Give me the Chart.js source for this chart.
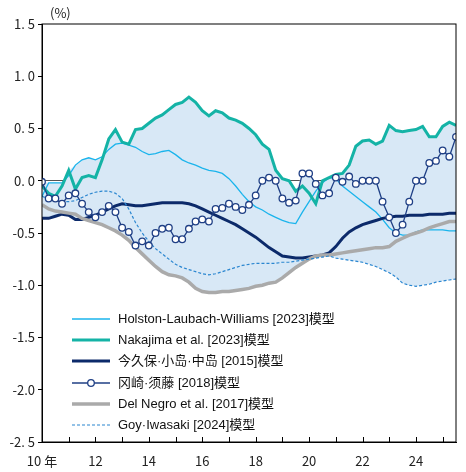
<!DOCTYPE html>
<html><head><meta charset="utf-8">
<script src="https://cdn.jsdelivr.net/npm/chart.js@4"></script>
<style>html,body{margin:0;padding:0;background:#fff}#w{width:466px;height:472px}</style>
</head><body><div id="w"><canvas id="c"></canvas></div>
<script>
const startYear = 10, step = 0.25;
const hlw = [-0.15,-0.02,-0.02,-0.02,0.05,0.15,0.2,0.22,0.2,0.23,0.3,0.35,0.36,0.34,0.32,0.28,0.25,0.26,0.28,0.29,0.25,0.2,0.17,0.15,0.12,0.1,0.09,0.07,0.02,-0.05,-0.13,-0.2,-0.25,-0.28,-0.32,-0.35,-0.38,-0.4,-0.41,-0.3,-0.2,-0.1,-0.02,0.03,0.02,-0.05,-0.1,-0.15,-0.2,-0.25,-0.3,-0.37,-0.45,-0.5,-0.52,-0.52,-0.49,-0.47,-0.47,-0.47,-0.47,-0.48,-0.48];
const nakajima = [-0.05,-0.12,-0.15,-0.05,0.1,-0.08,0.03,0.05,0.03,0.2,0.4,0.49,0.37,0.35,0.49,0.5,0.55,0.6,0.63,0.68,0.73,0.75,0.8,0.75,0.67,0.62,0.67,0.65,0.6,0.58,0.55,0.5,0.44,0.35,0.3,0.1,0.02,0.0,-0.1,-0.05,-0.12,-0.22,0.0,0.03,0.06,0.07,0.15,0.33,0.38,0.39,0.35,0.38,0.53,0.48,0.47,0.48,0.49,0.52,0.42,0.42,0.52,0.56,0.53];
const imakubo = [-0.36,-0.36,-0.34,-0.32,-0.33,-0.37,-0.37,-0.35,-0.33,-0.3,-0.27,-0.24,-0.22,-0.23,-0.24,-0.24,-0.23,-0.22,-0.21,-0.21,-0.21,-0.21,-0.22,-0.24,-0.27,-0.3,-0.33,-0.36,-0.39,-0.42,-0.46,-0.5,-0.54,-0.59,-0.64,-0.68,-0.72,-0.73,-0.74,-0.74,-0.73,-0.72,-0.71,-0.69,-0.63,-0.55,-0.49,-0.45,-0.42,-0.4,-0.38,-0.36,-0.35,-0.34,-0.34,-0.33,-0.33,-0.33,-0.32,-0.32,-0.32,-0.31,-0.31];
const okazaki = [-0.01,-0.17,-0.17,-0.22,-0.14,-0.12,-0.22,-0.3,-0.35,-0.3,-0.24,-0.3,-0.45,-0.49,-0.62,-0.58,-0.62,-0.5,-0.46,-0.45,-0.56,-0.56,-0.46,-0.39,-0.37,-0.39,-0.27,-0.26,-0.22,-0.25,-0.28,-0.23,-0.14,0.0,0.03,0.0,-0.17,-0.21,-0.19,0.07,0.07,-0.03,-0.14,-0.12,0.03,-0.01,0.04,-0.03,0.0,0.0,0.0,-0.2,-0.35,-0.5,-0.42,-0.2,0.0,0.0,0.17,0.19,0.29,0.23,0.42];
const delNegro = [-0.23,-0.27,-0.29,-0.3,-0.31,-0.32,-0.36,-0.38,-0.4,-0.42,-0.45,-0.48,-0.52,-0.57,-0.64,-0.7,-0.76,-0.82,-0.87,-0.9,-0.91,-0.93,-0.97,-1.03,-1.06,-1.07,-1.07,-1.06,-1.06,-1.05,-1.04,-1.03,-1.01,-1.0,-0.98,-0.97,-0.93,-0.88,-0.83,-0.79,-0.75,-0.72,-0.71,-0.71,-0.7,-0.69,-0.68,-0.67,-0.66,-0.65,-0.64,-0.64,-0.63,-0.58,-0.55,-0.52,-0.5,-0.48,-0.45,-0.43,-0.41,-0.39,-0.39];
const goy = [-0.15,-0.17,-0.19,-0.2,-0.2,-0.19,-0.16,-0.13,-0.11,-0.1,-0.1,-0.12,-0.17,-0.27,-0.4,-0.5,-0.58,-0.65,-0.7,-0.75,-0.8,-0.83,-0.85,-0.87,-0.89,-0.9,-0.89,-0.87,-0.85,-0.83,-0.81,-0.8,-0.79,-0.79,-0.79,-0.79,-0.78,-0.78,-0.77,-0.76,-0.75,-0.74,-0.73,-0.72,-0.74,-0.75,-0.76,-0.77,-0.78,-0.8,-0.82,-0.85,-0.88,-0.92,-0.98,-1.0,-1.01,-1.0,-0.99,-0.97,-0.96,-0.95,-0.94];
const yTickLabels = {"1.5":"1. 5","1":"1. 0","0.5":"0. 5","0":"0. 0","-0.5":"-0.5","-1":"-1.0","-1.5":"-1.5","-2":"-2.0","-2.5":"-2. 5"};
const names = ["Holston-Laubach-Williams [2023]模型","Nakajima et al. [2023]模型","今久保·小岛·中岛 [2015]模型","冈崎·须藤 [2018]模型","Del Negro et al. [2017]模型","Goy·Iwasaki [2024]模型"];

const all = [hlw,nakajima,imakubo,okazaki,delNegro,goy];
const xs = hlw.map((_,i)=>startYear+i*step);
const pts = a => a.map((v,i)=>({x:xs[i],y:v}));
const upper = xs.map((_,i)=>Math.max(...all.map(a=>a[i])));
const lower = xs.map((_,i)=>Math.min(...all.map(a=>a[i])));

const series = [
 {label:names[0],data:pts(hlw),borderColor:'#1ab4ec',borderWidth:1.3,order:6},
 {label:names[1],data:pts(nakajima),borderColor:'#14b3a6',borderWidth:3,order:5},
 {label:names[2],data:pts(imakubo),borderColor:'#0c2a6a',borderWidth:3,order:4},
 {label:names[3],data:pts(okazaki),borderColor:'#1f3f85',borderWidth:1.3,pointRadius:3.3,pointBackgroundColor:'#fff',pointBorderColor:'#1f3f85',pointBorderWidth:1.3,order:1},
 {label:names[4],data:pts(delNegro),borderColor:'#aaaaaa',borderWidth:3.5,order:3},
 {label:names[5],data:pts(goy),borderColor:'#2a86d0',borderWidth:1.2,borderDash:[3,2],order:2}
].map(d=>Object.assign({pointRadius:0,fill:false,tension:0},d));

const datasets = [
 {label:'upper',data:pts(upper),borderWidth:0,pointRadius:0,fill:false,borderColor:'transparent',order:20},
 {label:'lower',data:pts(lower),borderWidth:0,pointRadius:0,fill:'-1',borderColor:'transparent',backgroundColor:'#d8e8f6',order:19},
 ...series
];

const deco = {
 id:'deco',
 afterDraw(chart){
  const {ctx,chartArea:a,scales:{x,y}} = chart;
  ctx.save();
  ctx.strokeStyle='#000';ctx.lineWidth=1;
  ctx.strokeRect(a.left,a.top,a.right-a.left,a.bottom-a.top);
  for(let v=11;v<=25;v++){const px=Math.round(x.getPixelForValue(v))+0.5;ctx.beginPath();ctx.moveTo(px,a.bottom);ctx.lineTo(px,a.bottom-5);ctx.stroke();}
  ctx.fillStyle='#222';ctx.font='13px "Noto Sans CJK SC"';ctx.textBaseline='middle';
  ctx.fillText('(%)',50,13);
  const rows=[319,340,361,383,404,425];
  series.forEach((d,i)=>{
    const yy=rows[i];
    ctx.beginPath();ctx.strokeStyle=d.borderColor;ctx.lineWidth=d.borderWidth;ctx.setLineDash(d.borderDash||[]);
    ctx.moveTo(72,yy);ctx.lineTo(110,yy);ctx.stroke();ctx.setLineDash([]);
    if(d.pointRadius){ctx.beginPath();ctx.fillStyle='#fff';ctx.lineWidth=1.3;ctx.arc(91,yy,3.3,0,Math.PI*2);ctx.fill();ctx.stroke();}
    ctx.fillStyle='#111';ctx.font='13px "Liberation Sans","Noto Sans CJK SC"';
    ctx.fillText(d.label,118,yy);
  });
  ctx.restore();
 }
};

new Chart(document.getElementById('c'),{
 type:'line',
 data:{datasets},
 options:{
  responsive:true,maintainAspectRatio:false,animation:false,
  layout:{padding:{top:24,right:10,left:0,bottom:0}},
  plugins:{legend:{display:false},tooltip:{enabled:false}},
  scales:{
   x:{type:'linear',min:10,max:25.5,
      grid:{display:false},border:{display:true,color:'#000'},
      afterFit(s){s.height=30;},
      ticks:{stepSize:1,autoSkip:false,maxRotation:0,color:'#222',font:{size:13,family:'"Noto Sans CJK SC"'},
        callback:v=>v===10?'10 年':(v%2===0?String(v):'')}},
   y:{min:-2.5,max:1.5,
      afterFit(s){s.width=42;},
      border:{display:true,color:'#000'},
      grid:{color:c=>c.tick&&c.tick.value===0?'#555':'transparent',tickColor:'#000',tickLength:4,drawTicks:true},
      ticks:{stepSize:0.5,color:'#222',font:{size:13,family:'"Noto Sans CJK SC"'},callback:v=>yTickLabels[String(v)]}}
  }
 },
 plugins:[deco]
});
</script></body></html>
